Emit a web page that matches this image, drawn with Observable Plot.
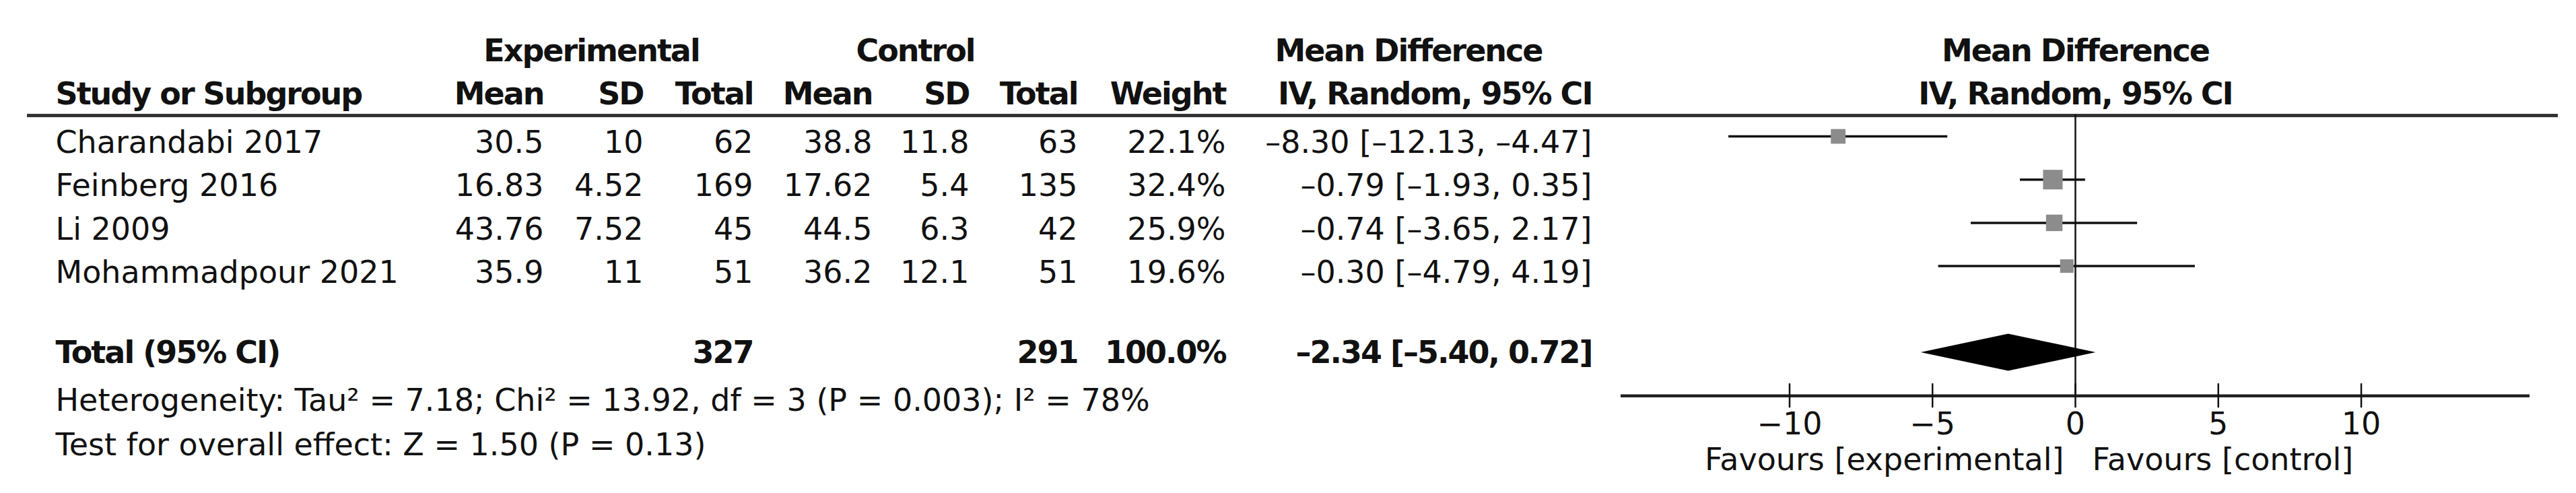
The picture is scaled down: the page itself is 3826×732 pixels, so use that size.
<!DOCTYPE html>
<html><head><meta charset="utf-8">
<script src="https://cdn.jsdelivr.net/npm/d3@7"></script>
<script src="https://cdn.jsdelivr.net/npm/@observablehq/plot@0.6"></script>
<style>
html,body{margin:0;padding:0;background:#fff;}
g[font-weight="bold"] text{letter-spacing:-2px;}
</style></head><body><div id="chart"></div>
<script>
// ---- data ----
const studies   = ["Charandabi 2017", "Feinberg 2016", "Li 2009", "Mohammadpour 2021"];
const expMean   = [30.5, 16.83, 43.76, 35.9];
const expSD     = [10, 4.52, 7.52, 11];
const expTotal  = [62, 169, 45, 51];
const ctlMean   = [38.8, 17.62, 44.5, 36.2];
const ctlSD     = [11.8, 5.4, 6.3, 12.1];
const ctlTotal  = [63, 135, 42, 51];
const weights   = [22.1, 32.4, 25.9, 19.6];
const meanDiff  = [-8.30, -0.79, -0.74, -0.30];
const ciLow     = [-12.13, -1.93, -3.65, -4.79];
const ciHigh    = [-4.47, 0.35, 2.17, 4.19];
const totalExpN = 327, totalCtlN = 291, totalWeight = 100.0;
const totalMD = -2.34, totalLow = -5.40, totalHigh = 0.72;
const heterogeneityText = "Heterogeneity: Tau\u00B2 = 7.18; Chi\u00B2 = 13.92, df = 3 (P = 0.003); I\u00B2 = 78%";
const overallText = "Test for overall effect: Z = 1.50 (P = 0.13)";
const xTicks = [-10, -5, 0, 5, 10];
const xExtent = [-15.9, 15.9];
const favourLeft = "Favours [experimental]", favourRight = "Favours [control]";

// ---- table built from arrays ----
const table = studies.map((s, i) => ({
  row: i, study: s, expMean: expMean[i], expSD: expSD[i], expTotal: expTotal[i],
  ctlMean: ctlMean[i], ctlSD: ctlSD[i], ctlTotal: ctlTotal[i],
  weight: weights[i], md: meanDiff[i], lo: ciLow[i], hi: ciHigh[i]
}));
const dash = v => (v < 0 ? "\u2013" : "") + Math.abs(v).toFixed(2);
const ciText = (m, l, h) => `${dash(m)} [${dash(l)}, ${dash(h)}]`;
const tickFmt = v => (v < 0 ? "\u2212" : "") + Math.abs(v);

// ---- layout (pixel styling) ----
const FS = 46;
const FONT = "DejaVu Sans";
const colX = {study: 82, expMean: 807, expSD: 955, expTotal: 1118, ctlMean: 1295, ctlSD: 1439, ctlTotal: 1600, weight: 1820, ci: 2364, mdHead: 1893};
const diamondHalf = 0.43;

const cols = [
  {x: colX.study, anchor: "start", text: d => d.study},
  {x: colX.expMean, anchor: "end", text: d => String(d.expMean)},
  {x: colX.expSD, anchor: "end", text: d => String(d.expSD)},
  {x: colX.expTotal, anchor: "end", text: d => String(d.expTotal)},
  {x: colX.ctlMean, anchor: "end", text: d => String(d.ctlMean)},
  {x: colX.ctlSD, anchor: "end", text: d => String(d.ctlSD)},
  {x: colX.ctlTotal, anchor: "end", text: d => String(d.ctlTotal)},
  {x: colX.weight, anchor: "end", text: d => d.weight.toFixed(1) + "%"},
  {x: colX.ci, anchor: "end", text: d => ciText(d.md, d.lo, d.hi)}
];

const head1 = [
  {label: "Experimental", x: 878, anchor: "middle"},
  {label: "Control", x: 1359, anchor: "middle"},
  {label: "Mean Difference", x: colX.mdHead, anchor: "start"}
];
const head2 = [
  {label: "Study or Subgroup", x: colX.study, anchor: "start"},
  {label: "Mean", x: colX.expMean, anchor: "end"},
  {label: "SD", x: colX.expSD, anchor: "end"},
  {label: "Total", x: colX.expTotal, anchor: "end"},
  {label: "Mean", x: colX.ctlMean, anchor: "end"},
  {label: "SD", x: colX.ctlSD, anchor: "end"},
  {label: "Total", x: colX.ctlTotal, anchor: "end"},
  {label: "Weight", x: colX.weight, anchor: "end"},
  {label: "IV, Random, 95% CI", x: colX.ci, anchor: "end"}
];
const totalRow = [
  {label: "Total (95% CI)", x: colX.study, anchor: "start"},
  {label: String(totalExpN), x: colX.expTotal, anchor: "end"},
  {label: String(totalCtlN), x: colX.ctlTotal, anchor: "end"},
  {label: totalWeight.toFixed(1) + "%", x: colX.weight, anchor: "end"},
  {label: ciText(totalMD, totalLow, totalHigh), x: colX.ci, anchor: "end"}
];

const TOTAL_ROW = 5, AXIS_ROW = 6;
const diamond = [
  {x: totalLow, y1: TOTAL_ROW, y2: TOTAL_ROW},
  {x: totalMD, y1: TOTAL_ROW - diamondHalf, y2: TOTAL_ROW + diamondHalf},
  {x: totalHigh, y1: TOTAL_ROW, y2: TOTAL_ROW}
];

const textMarks = (rows, y, dy, bold) => rows.map(r =>
  Plot.text([r], {y: () => y, text: d => d.label, frameAnchor: "left", dx: r.x, dy,
    textAnchor: r.anchor, fontSize: FS, fontWeight: bold ? "bold" : "normal", fill: "#111"}));

const marks = [
  // header rule
  Plot.ruleY([-0.5], {dy: 1, insetLeft: 40, insetRight: 27, stroke: "#333", strokeWidth: 5}),
  // headers
  ...textMarks(head1, -2, 2, true),
  ...textMarks(head2, -1, 2, true),
  Plot.text(["Mean Difference"], {x: 0, y: () => -2, dy: 2, text: d => d, fontSize: FS, fontWeight: "bold", fill: "#111"}),
  Plot.text(["IV, Random, 95% CI"], {x: 0, y: () => -1, dy: 2, text: d => d, fontSize: FS, fontWeight: "bold", fill: "#111"}),
  // study rows
  ...cols.map(c => Plot.text(table, {y: "row", text: c.text, frameAnchor: "left", dx: c.x, dy: 10,
    textAnchor: c.anchor, fontSize: FS, fill: "#111"})),
  // total row
  ...textMarks(totalRow, TOTAL_ROW, 1, true),
  // footnotes
  Plot.text([heterogeneityText], {y: () => 6, text: d => d, frameAnchor: "left", dx: colX.study, dy: 8, textAnchor: "start", fontSize: FS, fill: "#111"}),
  Plot.text([overallText], {y: () => 7, text: d => d, frameAnchor: "left", dx: colX.study, dy: 9, textAnchor: "start", fontSize: FS, fill: "#111"}),
  // zero line
  Plot.ruleX([0], {y1: -0.5, y2: AXIS_ROW, stroke: "#111", strokeWidth: 2.5}),
  // CI lines
  Plot.ruleY(table, {y: "row", x1: "lo", x2: "hi", stroke: "#111", strokeWidth: 3.5}),
  // squares
  Plot.dot(table, {x: "md", y: "row", r: "weight", symbol: "square", fill: "#8c8c8c"}),
  // diamond
  Plot.areaY(diamond, {x: "x", y1: "y1", y2: "y2", fill: "#000", curve: "linear"}),
  // axis
  Plot.ruleY([AXIS_ROW], {x1: () => xExtent[0], x2: () => xExtent[1], stroke: "#222", strokeWidth: 4.5}),
  Plot.ruleX(xTicks, {x: d => d, y1: () => AXIS_ROW, y2: () => AXIS_ROW, insetTop: -18, insetBottom: -18, stroke: "#111", strokeWidth: 2.5}),
  Plot.text(xTicks, {x: d => d, y: () => AXIS_ROW, dy: 43, text: tickFmt, fontSize: FS, fill: "#111"}),
  Plot.text([favourLeft], {x: () => 0, y: () => AXIS_ROW, dx: -17, dy: 96, text: d => d, textAnchor: "end", fontSize: FS, fill: "#111"}),
  Plot.text([favourRight], {x: () => 0, y: () => AXIS_ROW, dx: 25, dy: 96, text: d => d, textAnchor: "start", fontSize: FS, fill: "#111"})
];

const chart = Plot.plot({
  width: 3826, height: 732,
  margin: 0,
  style: {fontFamily: FONT, fontSize: FS + "px", background: "#fff", color: "#111"},
  x: {domain: xExtent, range: [2407, 3757], axis: null},
  y: {domain: [0, TOTAL_ROW], range: [202, 523], axis: null},
  r: {type: "linear", domain: [19.6, 32.4], range: [11.3, 16.4]},
  marks
});
document.getElementById("chart").appendChild(chart);
</script></body></html>
